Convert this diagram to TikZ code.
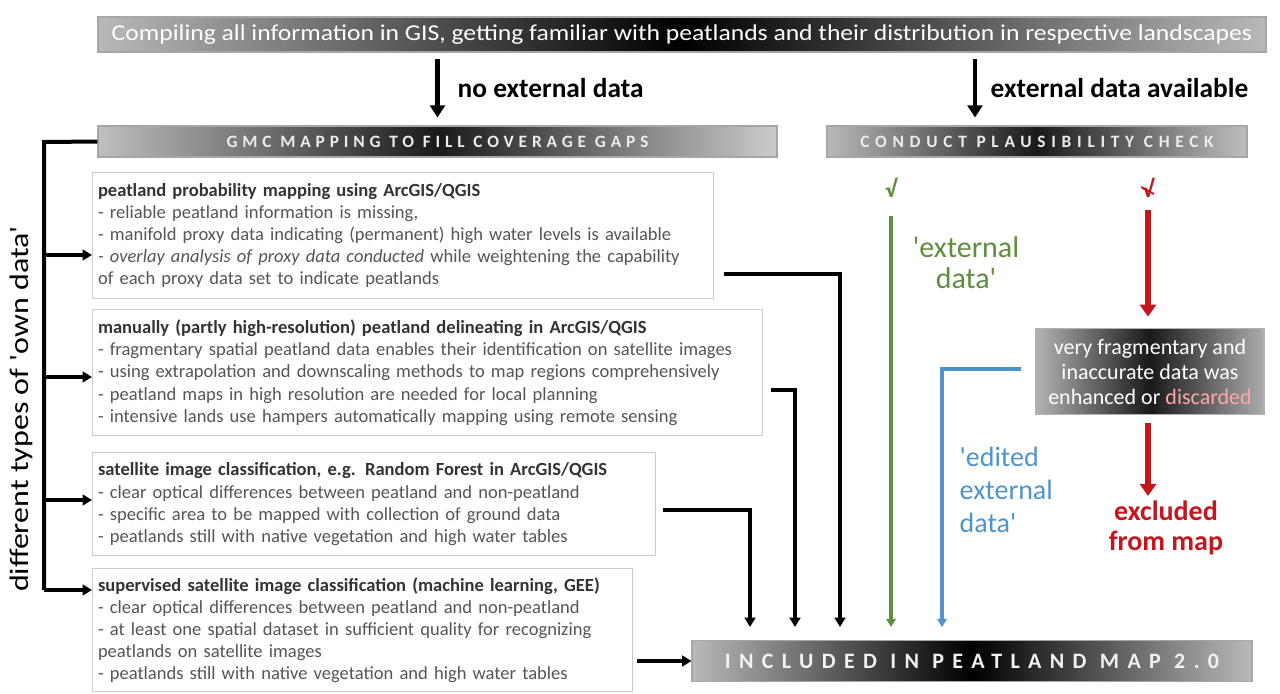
\documentclass[tikz,border=0pt]{standalone}
\usepackage{fontspec}
\setmainfont{Carlito}
\usetikzlibrary{arrows.meta,calc}
\definecolor{gline}{HTML}{5E8E3E}
\definecolor{bline}{HTML}{4F93CC}
\definecolor{rline}{HTML}{C4161C}
\definecolor{txtg}{HTML}{555555}
\definecolor{ttlg}{HTML}{333333}
\newcommand{\sq}{\textquotesingle}
\begin{document}
\begin{tikzpicture}[x=0.75pt,y=-0.75pt,
  bar/.style={draw=gray!70, line width=0.8pt, left color=gray!55, right color=gray!55, middle color=black, inner sep=0pt, text=white},
  infobox/.style={draw=gray!40, line width=1pt, fill=white, anchor=north west, inner xsep=4pt, inner ysep=0pt, align=left, text=txtg, font=\fontsize{13.9}{16.6}\selectfont},
  blk/.style={line width=3pt, -{Triangle[length=7pt,width=8pt]}},
  bigblk/.style={line width=3.5pt, -{Triangle[length=9pt,width=11pt]}},
  redarr/.style={rline, line width=4.5pt, -{Triangle[length=9pt,width=12pt]}},
  toplbl/.style={anchor=west, font=\fontsize{20.5}{24}\selectfont\bfseries}
]
\useasboundingbox (0,0) rectangle (1280,693);

% top bar
\node[bar, minimum width=876pt, minimum height=26.25pt] (top) at (682,34.5)
  {\fontsize{17}{19}\selectfont\scalebox{1.13}[1]{Compiling all information in GIS, getting familiar with peatlands and their distribution in respective landscapes}};

% second level bars
\node[bar, left color=gray!50, right color=gray!40, middle color=black!90, minimum width=509.25pt, minimum height=23.25pt] (gmc) at (437.5,141.5)
  {\fontsize{13}{15}\selectfont\bfseries\addfontfeatures{LetterSpace=28}\color{gray!15}GMC MAPPING TO FILL COVERAGE GAPS};
\node[bar, left color=gray!55, right color=gray!50, middle color=black!90, minimum width=315pt, minimum height=23.25pt] (plaus) at (1037,141.5)
  {\fontsize{13}{15}\selectfont\bfseries\addfontfeatures{LetterSpace=33}\color{gray!15}CONDUCT PLAUSIBILITY CHECK};

% arrows from top
\draw[bigblk, shorten <=4.5pt, shorten >=6pt] (top.south -| gmc.north) -- (gmc.north);
\coordinate (pin) at ([xshift=-46.5pt]plaus.north);
\draw[bigblk, shorten <=4.5pt, shorten >=6pt] (top.south -| pin) -- (pin);
\node[toplbl] (noext) at (453,88) {no external data};
\node[toplbl] (ext) at (986,88) {external data available};

% info boxes
\node[infobox, text width=457.75pt, minimum height=94.5pt] (b1) at (92,172)
  {{\color{ttlg}\bfseries peatland probability mapping using ArcGIS/QGIS}\\
  - reliable peatland information is missing,\\
  - manifold proxy data indicating (permanent) high water levels is available\\
  \textit{- overlay analysis of proxy data conducted} while weightening the capability\\
  of each proxy data set to indicate peatlands};
\node[infobox, text width=494.5pt, minimum height=94.5pt] (b2) at (92,309)
  {{\color{ttlg}\bfseries manually (partly high-resolution) peatland delineating in ArcGIS/QGIS}\\
  - fragmentary spatial peatland data enables their identification on satellite images\\
  - using extrapolation and downscaling methods to map regions comprehensively\\
  - peatland maps in high resolution are needed for local planning\\
  - intensive lands use hampers automatically mapping using remote sensing};
\node[infobox, text width=414.25pt, minimum height=77.25pt] (b3) at (92,452)
  {{\color{ttlg}\bfseries satellite image classification, e.g. Random Forest in ArcGIS/QGIS}\\
  - clear optical differences between peatland and non-peatland\\
  - specific area to be mapped with collection of ground data\\
  - peatlands still with native vegetation and high water tables};
\node[infobox, text width=397pt, minimum height=92.25pt] (b4) at (92,568)
  {{\color{ttlg}\bfseries supervised satellite image classification (machine learning, GEE)}\\
  - clear optical differences between peatland and non-peatland\\
  - at least one spatial dataset in sufficient quality for recognizing\\
  peatlands on satellite images\\
  - peatlands still with native vegetation and high water tables};

% included bar
\node[bar, minimum width=420pt, minimum height=31pt] (incl) at (972,661)
  {\fontsize{16.5}{20}\selectfont\bfseries\addfontfeatures{LetterSpace=38}\color{gray!10}INCLUDED IN PEATLAND MAP 2.0};

% bracket on the left
\coordinate (brtop) at (44,142);
\coordinate (brbot) at (44,590);
\draw[line width=3pt] (gmc.west) -- (brtop) -- (brbot);
\draw[blk] (44,255) -- (b1.west |- 0,255);
\draw[blk] (44,377) -- (b2.west |- 0,377);
\draw[blk] (44,500) -- (b3.west |- 0,500);
\draw[blk] (brbot) -- (b4.west |- brbot);
\node[rotate=90, font=\fontsize{20}{22}\selectfont] (own) at (21,409) {\scalebox{1.2}[1]{different types of \sq{}own data\sq}};

% arrows into included bar
\coordinate (e1) at (840,627);
\coordinate (e2) at (795,627);
\coordinate (e3) at (750,627);
\draw[blk] ([xshift=7pt]b1.east |- 0,274) -| (e1);
\draw[blk] ([xshift=6pt]b2.east |- 0,390) -| (e2);
\draw[blk] ([xshift=5pt]b3.east |- 0,510) -| (e3);
\draw[blk] ([xshift=3pt]b4.east |- incl.west) -- (incl.west);

% external data branch
\node[text=gline, font=\fontsize{18}{20}\selectfont\bfseries] (gchk) at (891,188) {√};
\draw[gline, line width=2.5pt, -{Triangle[length=6pt,width=7pt]}] ([yshift=-10pt]gchk.south) -- (gchk.south |- 0,627);
\node[text=gline, align=center, font=\fontsize{22.5}{23}\selectfont] (extlbl) at (966,263) {\sq external\\data\sq};

\node[text=rline, font=\fontsize{18}{20}\selectfont\bfseries] (rchk) at (1148,188) {√};
\draw[rline, line width=1.4pt] ($(rchk.center)+(-7,-1)$) -- ($(rchk.center)+(6,6)$);

\node[minimum width=171pt, minimum height=65pt, inner sep=0pt, draw=gray!60, line width=0.8pt, left color=gray!60, right color=gray!65, middle color=black!90, text=white, align=center, font=\fontsize{16.5}{18.75}\selectfont] (frag) at (1150,371.5)
  {very fragmentary and\\ inaccurate data was\\ enhanced or {\color{red!35!white}discarded}};
\draw[redarr] ([yshift=-6pt]rchk.south) -- ($(rchk.south |- frag.north)+(0,-11)$);

\node[text=rline, font=\fontsize{21}{23}\selectfont\bfseries, align=center] (excl) at (1166,528) {excluded\\from map};
\draw[redarr, shorten <=6pt] (rchk.south |- frag.south) -- (rchk.south |- excl.north);

\coordinate (bcorner) at (942,369);
\draw[bline, line width=2.5pt, -{Triangle[length=6pt,width=7pt]}] ([xshift=-11pt]frag.west |- bcorner) -- (bcorner) -- (942,627);
\node[anchor=west, text=bline, align=left, font=\fontsize{21}{24.5}\selectfont] (edlbl) at (955,490) {\sq edited\\external\\data\sq};
\end{tikzpicture}
\end{document}
